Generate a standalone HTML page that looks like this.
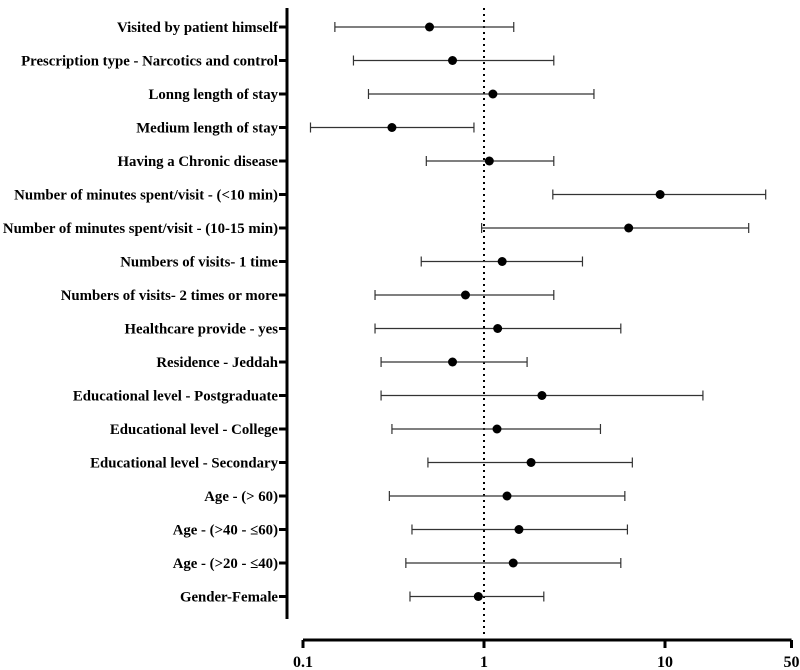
<!DOCTYPE html>
<html><head><meta charset="utf-8"><style>
body{margin:0;background:#fff;width:800px;height:670px;overflow:hidden}
svg{display:block}
text{font-family:"Liberation Serif",serif;font-weight:bold;fill:#000}
</style></head><body>
<svg id="chart" width="800" height="670"></svg>
<script>
const labels=["Visited by patient himself","Prescription type - Narcotics and control ","Lonng length of stay","Medium length of stay","Having a  Chronic disease","Number of minutes spent/visit - (<10 min)","Number of minutes spent/visit - (10-15 min)","Numbers of visits- 1 time","Numbers of visits- 2 times or more","Healthcare provide - yes","Residence - Jeddah","Educational level - Postgraduate","Educational level - College","Educational level - Secondary","Age - (> 60)","Age - (>40 - ≤60)","Age - (>20 - ≤40)","Gender-Female"];
const estimates=[0.50,0.67,1.12,0.31,1.07,9.4,6.3,1.26,0.79,1.19,0.67,2.09,1.18,1.82,1.34,1.56,1.45,0.93];
const lower=[0.15,0.19,0.23,0.11,0.48,2.4,0.97,0.45,0.25,0.25,0.27,0.27,0.31,0.49,0.30,0.40,0.37,0.39];
const upper=[1.46,2.43,4.05,0.88,2.43,36,29,3.5,2.43,5.7,1.73,16.2,4.4,6.6,6.0,6.2,5.7,2.14];
const xTicks=[0.1,1,10,50];
const xTickLabels=["0.1","1","10","50"];

const svg=document.getElementById('chart');
const NS='http://www.w3.org/2000/svg';
function el(t,a,p){const e=document.createElementNS(NS,t);for(const k in a)e.setAttribute(k,a[k]);(p||svg).appendChild(e);return e;}
const x0=303,dec=181;
function xs(v){return x0+(Math.log10(v)-Math.log10(0.1))*dec;}
function ys(i){return 27+i*33.5;}

let r=el('line',{x1:xs(1),x2:xs(1),y1:8,y2:638,stroke:'#000','stroke-width':2,'stroke-dasharray':'2,4'});



let ya=el('line',{x1:287,x2:287,y1:8,y2:619,stroke:'#000','stroke-width':3});



let xa=el('line',{x1:xs(0.1),x2:xs(50),y1:640,y2:640,stroke:'#000','stroke-width':3});


xTicks.forEach((t,i)=>{
  let tk=el('line',{x1:xs(t),x2:xs(t),y1:640,y2:648,stroke:'#000','stroke-width':3});
  
  
  let tl=el('text',{x:xs(t),y:667,'text-anchor':'middle','font-size':16});
  tl.textContent=xTickLabels[i];
  
  
});

labels.forEach((lab,i)=>{
  const y=ys(i);
  let tk=el('line',{x1:279,x2:287,y1:y,y2:y,stroke:'#000','stroke-width':3});
  
  
  let t=el('text',{x:278,y:y+5,'text-anchor':'end','font-size':14.8,'xml:space':'preserve'});
  t.textContent=lab;
  
  
  const g=el('g',{});
  
  
  const a=xs(lower[i]),b=xs(upper[i]);
  el('line',{x1:a,x2:b,y1:y,y2:y,stroke:'#333','stroke-width':1.2},g);
  el('line',{x1:a,x2:a,y1:y-5,y2:y+5,stroke:'#333','stroke-width':1.2},g);
  el('line',{x1:b,x2:b,y1:y-5,y2:y+5,stroke:'#333','stroke-width':1.2},g);
  let c=el('circle',{cx:xs(estimates[i]),cy:y,r:4.5,fill:'#000'},g);
  
  
});
</script>
</body></html>
